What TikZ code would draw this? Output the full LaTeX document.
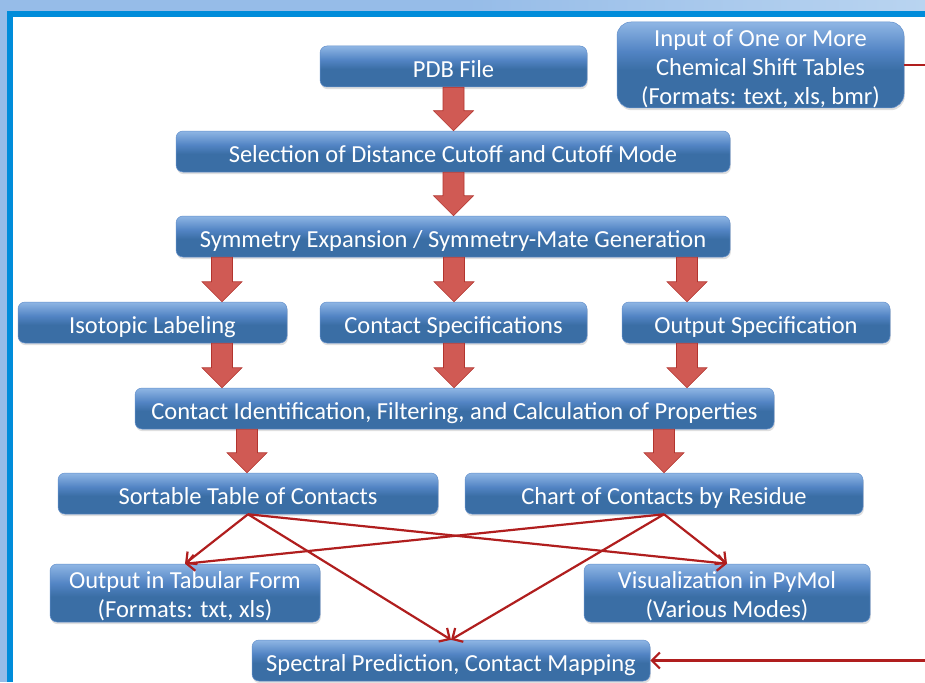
\documentclass[tikz,border=0pt]{standalone}
\usepackage{fontspec}
\setmainfont{Carlito}
\usetikzlibrary{arrows.meta,shadows,calc}
\definecolor{btop}{RGB}{143,182,228}
\definecolor{bmid}{RGB}{82,132,196}
\definecolor{bbot}{RGB}{58,110,165}
\definecolor{bedge}{RGB}{100,145,205}
\definecolor{afill}{RGB}{208,90,84}
\definecolor{aedge}{RGB}{178,52,46}
\definecolor{lred}{RGB}{176,30,30}
\definecolor{sky}{RGB}{150,188,232}
\definecolor{skyhi}{RGB}{185,212,240}
\definecolor{frameblue}{RGB}{0,140,218}
\pgfdeclareverticalshading{boxshade}{100bp}{color(0bp)=(bbot); color(25bp)=(bbot); color(47bp)=(bbot); color(58bp)=(bmid); color(75bp)=(btop); color(100bp)=(btop)}
\begin{document}
\begin{tikzpicture}[x=1pt,y=-1pt,
  box/.style={rounded corners=7pt, draw=bedge, line width=0.5pt, shading=boxshade,
    text=white, font=\fontsize{24.5}{29}\selectfont, align=center, inner sep=0pt,
    text height=24pt, text depth=2pt,
    drop shadow={shadow xshift=0.8pt, shadow yshift=-2.2pt, opacity=0.25}},
  twoline/.style={text height=50pt, text depth=2pt},
  threeline/.style={text height=81pt, text depth=2pt},
  blockarr/.style={fill=afill, draw=aedge, line width=0.6pt,
    to path={let \p1=(\tikztostart), \p2=(\tikztotarget) in
      (\x1-10.5pt,\y1) -- (\x1+10.5pt,\y1) -- (\x1+10.5pt,\y2+20pt) -- (\x1+20pt,\y2+20pt)
      -- (\x1,\y2) -- (\x1-20pt,\y2+20pt) -- (\x1-10.5pt,\y2+20pt) -- cycle}},
  link/.style={draw=lred, line width=2.2pt,
    -{Straight Barb[length=8pt,width=16pt,line width=2.2pt]}}
]
\useasboundingbox (0,0) rectangle (925,682);
% background frame
\fill[sky] (0,0) rectangle (925,682);
\shade[left color=sky, right color=skyhi, middle color=sky] (0,0) rectangle (925,11);
\fill[frameblue] (7,11) rectangle (925,682);
\fill[white] (13,17) rectangle (925,682);

% boxes
\node[box, minimum width=267pt, minimum height=41pt] (pdb) at (453.5,66.5) {PDB File};
\node[box, threeline, rounded corners=14pt, minimum width=287pt, minimum height=86pt] (chem) at (760.5,65)
  {Input of One or More\\Chemical Shift Tables\\(Formats: text, xls, bmr)};
\node[box, minimum width=554pt, minimum height=41pt] (sel) at (453,151.5)
  {Selection of Distance Cutoff and Cutoff Mode};
\node[box, minimum width=554pt, minimum height=41pt] (sym) at (453,236.5)
  {Symmetry Expansion / Symmetry-Mate Generation};
\node[box, minimum width=269pt, minimum height=41pt] (iso) at (152.5,322.5) {Isotopic Labeling};
\node[box, minimum width=267pt, minimum height=41pt] (cspec) at (453.5,322.5) {Contact Specifications};
\node[box, minimum width=268pt, minimum height=41pt] (ospec) at (756,322.5) {Output Specification};
\node[box, minimum width=639pt, minimum height=41pt] (cid) at (454.5,408.5)
  {Contact Identification, Filtering, and Calculation of Properties};
\node[box, minimum width=380pt, minimum height=41pt] (sort) at (248,493.5) {Sortable Table of Contacts};
\node[box, minimum width=398pt, minimum height=41pt] (chart) at (664,493.5) {Chart of Contacts by Residue};
\node[box, twoline, minimum width=270pt, minimum height=58pt] (tab) at (185,593)
  {Output in Tabular Form\\(Formats: txt, xls)};
\node[box, twoline, minimum width=286pt, minimum height=58pt] (vis) at (727,593)
  {Visualization in PyMol\\(Various Modes)};
\node[box, minimum width=398pt, minimum height=41pt] (spec) at (451,660.5)
  {Spectral Prediction, Contact Mapping};

% arrow columns
\coordinate (cA) at (222,0);
\coordinate (cB) at (454,0);
\coordinate (cC) at (687,0);
\coordinate (cD) at (247,0);
\coordinate (cE) at (664,0);
\coordinate (rc) at (935,0);

% block arrows
\draw[blockarr] (pdb.south) to (sel.north);
\draw[blockarr] (sel.south -| pdb.south) to (sym.north -| pdb.south);
\draw[blockarr] (sym.south -| cA) to (iso.north -| cA);
\draw[blockarr] (sym.south -| cB) to (cspec.north -| cB);
\draw[blockarr] (sym.south -| cC) to (ospec.north -| cC);
\draw[blockarr] (iso.south -| cA) to (cid.north -| cA);
\draw[blockarr] (cspec.south -| cB) to (cid.north -| cB);
\draw[blockarr] (ospec.south -| cC) to (cid.north -| cC);
\draw[blockarr] (cid.south -| cD) to (sort.north -| cD);
\draw[blockarr] (cid.south -| cE) to (chart.north -| cE);

% thin connectors
\draw[link] (sort.south) -- (tab.north);
\draw[link] (sort.south) -- (vis.north);
\draw[link] (sort.south) -- (spec.north);
\draw[link] (chart.south) -- (tab.north);
\draw[link] (chart.south) -- (vis.north);
\draw[link] (chart.south) -- (spec.north);
\draw[link] (chem.east) -- (chem.east -| rc) -- (spec.east -| rc) -- (spec.east);
\end{tikzpicture}
\end{document}
